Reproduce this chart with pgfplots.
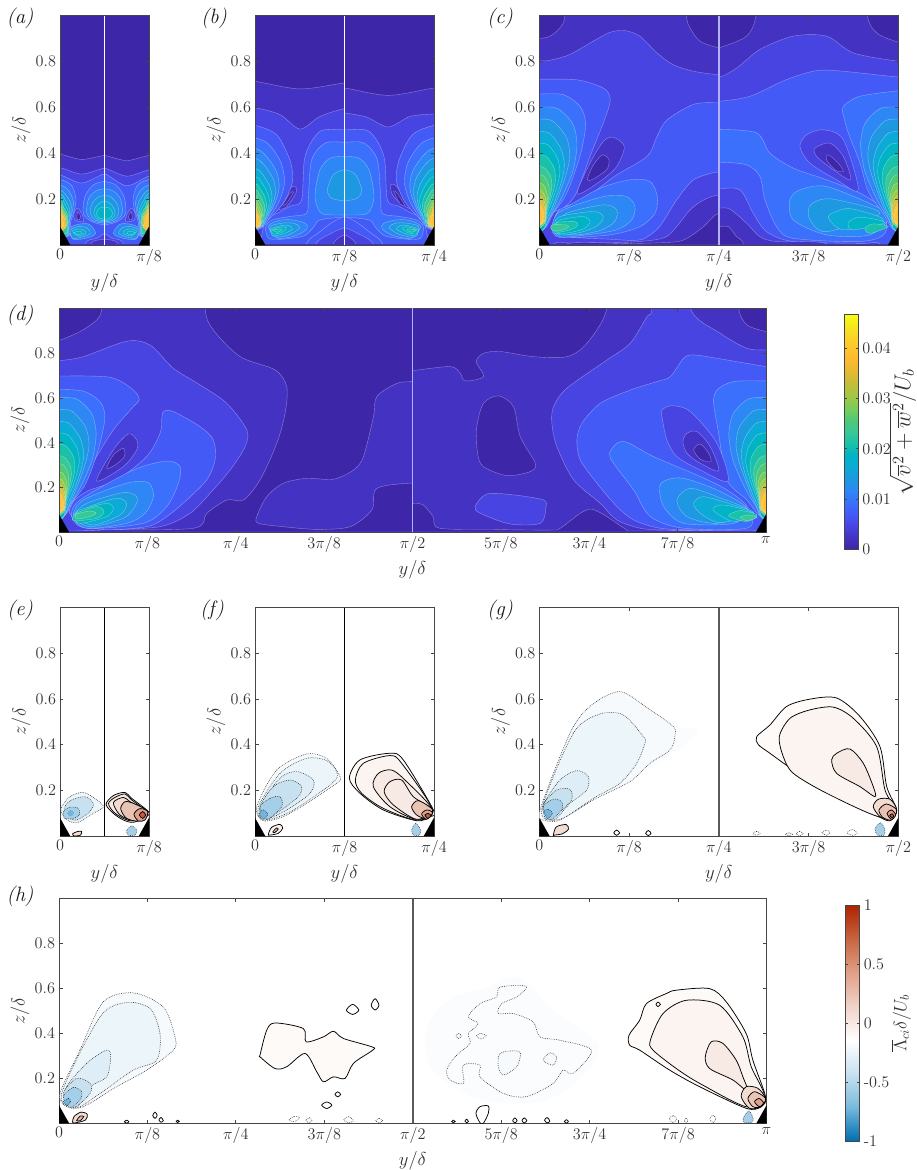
\documentclass[border=0pt]{standalone}
\usepackage{pgfplots}
\pgfplotsset{compat=1.18}
% contour level colours (parula)
\definecolor{L0}{RGB}{62,38,168}\definecolor{L1}{RGB}{68,50,195}\definecolor{L2}{RGB}{71,68,226}\definecolor{L3}{RGB}{68,90,246}
\definecolor{L4}{RGB}{58,112,252}\definecolor{L5}{RGB}{45,135,245}\definecolor{L6}{RGB}{30,152,225}\definecolor{L7}{RGB}{12,170,215}
\definecolor{L8}{RGB}{0,180,195}\definecolor{L9}{RGB}{25,192,170}\definecolor{L10}{RGB}{55,200,150}\definecolor{L11}{RGB}{80,200,120}
\definecolor{L12}{RGB}{120,205,90}\definecolor{L13}{RGB}{160,200,70}\definecolor{L14}{RGB}{190,190,60}\definecolor{L15}{RGB}{225,185,50}
\definecolor{L16}{RGB}{250,185,50}\definecolor{L17}{RGB}{255,195,45}\definecolor{L18}{RGB}{250,210,40}\definecolor{L19}{RGB}{245,230,30}
\definecolor{B00}{RGB}{250,252,254}\definecolor{B0}{RGB}{246,250,253}\definecolor{B1}{RGB}{236,245,250}\definecolor{B2}{RGB}{222,237,246}\definecolor{B3}{RGB}{200,225,240}
\definecolor{B4}{RGB}{165,207,232}\definecolor{B5}{RGB}{115,180,218}
\definecolor{R0}{RGB}{253,250,248}\definecolor{R1}{RGB}{251,244,240}\definecolor{R2}{RGB}{247,234,228}\definecolor{R3}{RGB}{242,220,210}
\definecolor{R4}{RGB}{234,195,180}\definecolor{R5}{RGB}{224,160,140}\definecolor{R6}{RGB}{200,90,60}
\definecolor{axc}{RGB}{70,70,70}
\newcommand{\tfont}{\fontsize{14.4}{16}\selectfont}
\pgfplotsset{
 colormap={parula}{rgb255=(62,38,168) rgb255=(68,50,195) rgb255=(71,68,226) rgb255=(68,90,246) rgb255=(58,112,252) rgb255=(45,135,245) rgb255=(30,152,225) rgb255=(12,170,215) rgb255=(0,180,195) rgb255=(25,192,170) rgb255=(55,200,150) rgb255=(80,200,120) rgb255=(120,205,90) rgb255=(160,200,70) rgb255=(190,190,60) rgb255=(225,185,50) rgb255=(250,185,50) rgb255=(255,195,45) rgb255=(250,210,40) rgb255=(245,230,30) rgb255=(249,251,21)},
 colormap={bwr}{rgb255=(0,110,175) rgb255=(120,185,220) rgb255=(200,225,240) rgb255=(255,255,255) rgb255=(240,210,200) rgb255=(225,160,135) rgb255=(200,100,65) rgb255=(175,35,0)},
 halfax/.style={scale only axis,anchor=south west,hide axis,ymin=0,ymax=1},
 frame/.style={scale only axis,anchor=south west,ymin=0,ymax=1,
   ytick={.2,.4,.6,.8},yticklabels={0.2,0.4,0.6,0.8},
   tick align=inside,major tick length=3.5pt,
   axis line style={color=axc,line width=.8pt},tick style={color=axc,line width=.8pt},
   tick label style={font=\tfont,color=black!80,scale=1.125},
   label style={font=\tfont,color=black!80,scale=1.3},
   xlabel={$y/\delta$},ylabel={$z/\delta$},ylabel shift=-3pt,
   clip=true},
 xa/.style={xmin=0,xmax=1,xtick={0,1},xticklabels={$0$,$\pi/8$}},
 xb/.style={xmin=0,xmax=2,xtick={0,1,2},xticklabels={$0$,$\pi/8$,$\pi/4$}},
 xc/.style={xmin=0,xmax=4,xtick={0,1,2,3,4},xticklabels={$0$,$\pi/8$,$\pi/4$,$3\pi/8$,$\pi/2$}},
 xd/.style={xmin=0,xmax=8,xtick={0,...,8},xticklabels={$0$,$\pi/8$,$\pi/4$,$3\pi/8$,$\pi/2$,$5\pi/8$,$3\pi/4$,$7\pi/8$,$\pi$}},
}
\newcommand{\C}[2]{\addplot[fill=#1,draw=white,draw opacity=.4,line width=.4pt,smooth cycle,forget plot] coordinates {#2};}
\newcommand{\F}[2]{\addplot[fill=#1,draw=none,smooth cycle,forget plot] coordinates {#2};}
\newcommand{\Bd}[2]{\addplot[fill=#1,draw=black!85,line width=.55pt,dash pattern=on .7pt off 1.1pt,smooth cycle,forget plot] coordinates {#2};}
\newcommand{\Rd}[2]{\addplot[fill=#1,draw=black,line width=.75pt,smooth cycle,forget plot] coordinates {#2};}
\newcommand{\Tri}[1]{\addplot[fill=black,draw=none,forget plot] coordinates {(0,0)(0,.08)(.115,0)} --cycle;
  \addplot[fill=black,draw=none,forget plot] coordinates {(#1,0)(#1,.08)(#1-.115,0)} --cycle;}
\newcommand{\HL}[5]{\begin{axis}[halfax,at={(#1pt,#2pt)},width=#3pt,height=#4pt,xmin=0,xmax=#5]}
\newcommand{\HR}[5]{\begin{axis}[halfax,x dir=reverse,at={(#1pt,#2pt)},width=#3pt,height=#4pt,xmin=0,xmax=#5]}
\newcommand{\Base}{\C{L0}{(-5,-5)(20,-5)(20,5)(-5,5)}}
\newcommand{\Strip}{\addplot[fill=L1,draw=none,forget plot] coordinates {(-5,-1)(20,-1)(20,.006)(-5,.006)} --cycle;}
% wall contours shared by the wide panels
\newcommand{\wallstack}{%
\C{L5}{(-.1,.601)(0,.601)(.2,.595)(.37,.53)(.42,.44)(.38,.33)(.29,.24)(.2,.17)(.12,.12)(.05,.07)(-.1,.07)}
\C{L6}{(-.1,.549)(0,.549)(.15,.54)(.3,.47)(.34,.39)(.3,.31)(.23,.23)(.16,.16)(.1,.11)(.05,.07)(-.1,.07)}
\C{L7}{(-.1,.495)(0,.495)(.12,.485)(.24,.42)(.28,.35)(.25,.28)(.19,.21)(.13,.15)(.08,.11)(.05,.07)(-.1,.07)}
\C{L8}{(-.1,.444)(0,.444)(.1,.435)(.2,.38)(.23,.32)(.2,.26)(.15,.2)(.1,.15)(.07,.11)(.05,.07)(-.1,.07)}
\C{L9}{(-.1,.393)(0,.393)(.08,.385)(.16,.34)(.18,.29)(.16,.24)(.12,.19)(.08,.14)(.06,.1)(-.1,.07)}
\C{L10}{(-.1,.342)(0,.342)(.06,.335)(.125,.3)(.14,.26)(.12,.21)(.09,.17)(.07,.12)(.05,.09)(-.1,.07)}
\C{L11}{(-.1,.306)(0,.306)(.05,.3)(.1,.265)(.11,.23)(.095,.19)(.075,.15)(.06,.1)(-.1,.07)}
\C{L12}{(-.1,.27)(0,.27)(.04,.265)(.08,.235)(.09,.2)(.08,.17)(.065,.13)(.05,.09)(-.1,.07)}
\C{L13}{(-.1,.24)(0,.24)(.03,.235)(.065,.21)(.075,.18)(.07,.15)(.055,.11)(-.1,.07)}
\C{L14}{(-.1,.215)(0,.215)(.025,.21)(.055,.19)(.07,.16)(.065,.13)(.05,.1)(-.1,.07)}
\C{L15}{(-.1,.2)(0,.2)(.03,.19)(.06,.16)(.065,.13)(.05,.1)(-.1,.07)}
\C{L16}{(-.1,.185)(0,.185)(.025,.17)(.05,.145)(.05,.12)(.035,.095)(-.1,.08)}
\C{L17}{(-.1,.17)(0,.17)(.02,.16)(.04,.135)(.04,.115)(.02,.095)(-.1,.085)}
}
% common to both halves of panel a
\newcommand{\aHalf}{%
\C{L5}{(.1,.07)(.2,.09)(.33,.09)(.4,.05)(.3,.03)(.15,.025)}
\C{L6}{(.12,.065)(.2,.08)(.3,.075)(.34,.05)(.25,.035)(.14,.03)}
\C{L7}{(.14,.06)(.2,.07)(.27,.065)(.29,.05)(.2,.04)}
\C{L8}{(.16,.055)(.22,.06)(.25,.052)(.2,.045)}
\C{L4}{(.262,.138)(.28,.211)(.375,.262)(.5,.277)(.6,.277)(.6,.087)(.5,.087)(.356,.102)}
\C{L5}{(.3,.14)(.32,.2)(.4,.235)(.5,.245)(.6,.245)(.6,.095)(.5,.095)(.37,.105)}
\C{L6}{(.34,.14)(.36,.18)(.43,.21)(.5,.215)(.6,.215)(.6,.1)(.5,.1)(.39,.11)}
\C{L7}{(.38,.14)(.4,.165)(.45,.185)(.5,.19)(.6,.19)(.6,.105)(.5,.105)(.41,.115)}
\C{L8}{(.41,.14)(.44,.16)(.5,.165)(.6,.165)(.6,.112)(.5,.112)(.43,.12)}
\C{L2}{(.28,-.05)(.3,.015)(.42,.03)(.5,.05)(.6,.05)(.6,-.05)}
\C{L1}{(.35,-.05)(.36,.012)(.5,.025)(.6,.025)(.6,-.05)}
\C{L2}{(.195,.16)(.244,.138)(.262,.102)(.169,.109)(.157,.138)}
\C{L0}{(.2,.145)(.23,.125)(.215,.11)(.19,.115)}
\C{L4}{(-.2,.285)(0,.285)(.13,.26)(.18,.2)(.16,.15)(.12,.1)(.1,.04)(-.2,.04)}
\C{L5}{(-.2,.262)(0,.262)(.1,.235)(.15,.19)(.135,.14)(.105,.1)(.09,.04)(-.2,.04)}
\C{L6}{(-.2,.24)(0,.24)(.08,.21)(.125,.175)(.12,.13)(.095,.09)(.08,.04)(-.2,.04)}
\C{L7}{(-.2,.225)(0,.225)(.06,.195)(.105,.16)(.105,.125)(.09,.09)(.08,.045)(-.2,.04)}
\C{L8}{(-.2,.21)(0,.21)(.05,.18)(.09,.15)(.09,.12)(.08,.09)(.075,.05)(-.2,.04)}
\C{L10}{(-.2,.195)(0,.195)(.04,.165)(.08,.14)(.085,.115)(.075,.09)(.07,.05)(-.2,.04)}
\C{L12}{(-.2,.18)(0,.18)(.03,.155)(.07,.13)(.075,.11)(.07,.085)(-.2,.04)}
\C{L14}{(-.2,.17)(0,.17)(.025,.145)(.06,.125)(.065,.105)(.06,.08)(-.2,.04)}
\C{L16}{(-.2,.155)(0,.155)(.02,.135)(.05,.12)(.05,.1)(.05,.07)(-.2,.04)}
\C{L17}{(-.2,.14)(0,.14)(.03,.115)(.035,.1)(.03,.08)(-.2,.04)}
}
% common to both halves of panel b
\newcommand{\bWall}{%
\C{L3}{(-.2,.521)(0,.521)(.242,.48)(.39,.37)(.42,.28)(.33,.19)(.2,.13)(.1,.09)(.05,.07)(-.2,.07)}
\C{L4}{(-.2,.466)(0,.466)(.15,.44)(.29,.36)(.33,.27)(.27,.19)(.17,.125)(.08,.08)(-.2,.07)}
\C{L5}{(-.2,.422)(0,.422)(.12,.39)(.24,.32)(.27,.25)(.22,.18)(.14,.12)(.07,.08)(-.2,.07)}
\C{L6}{(-.2,.378)(0,.378)(.1,.35)(.2,.29)(.23,.23)(.19,.17)(.12,.115)(.06,.08)(-.2,.07)}
\C{L7}{(-.2,.335)(0,.335)(.08,.31)(.16,.26)(.19,.21)(.16,.155)(.1,.11)(.06,.08)(-.2,.07)}
\C{L8}{(-.2,.298)(0,.298)(.06,.28)(.13,.235)(.16,.19)(.13,.14)(.08,.1)(-.2,.07)}
\C{L9}{(-.2,.268)(0,.268)(.05,.25)(.11,.21)(.13,.175)(.105,.13)(.07,.095)(-.2,.07)}
\C{L10}{(-.2,.243)(0,.243)(.04,.225)(.09,.19)(.11,.16)(.09,.12)(.06,.09)(-.2,.07)}
\C{L11}{(-.2,.22)(0,.22)(.03,.2)(.075,.17)(.09,.145)(.075,.115)(.05,.085)(-.2,.07)}
\C{L12}{(-.2,.2)(0,.2)(.025,.185)(.06,.16)(.075,.135)(.065,.11)(.05,.08)(-.2,.07)}
\C{L13}{(-.2,.185)(0,.185)(.02,.17)(.05,.145)(.065,.125)(.06,.1)(.045,.08)(-.2,.07)}
\C{L15}{(-.2,.17)(0,.17)(.015,.15)(.05,.125)(.06,.105)(.04,.08)(-.2,.07)}
\C{L16}{(-.2,.15)(0,.15)(.01,.14)(.04,.12)(.05,.1)(.03,.08)(-.2,.07)}
\C{L17}{(-.2,.135)(0,.135)(.025,.115)(.035,.1)(.02,.085)(-.2,.07)}
}
\newcommand{\bMound}{%
\C{L3}{(.1,.09)(.26,.14)(.4,.17)(.521,.197)(.559,.386)(.726,.495)(1,.502)(1.2,.502)(1.2,-.2)(.1,-.2)}
\C{L4}{(.12,.08)(.2,.11)(.4,.125)(.577,.138)(.596,.211)(.633,.371)(.782,.444)(1,.448)(1.2,.448)(1.2,.1)(1,.12)(.726,.109)(.66,.08)(.55,.04)(.3,.025)(.15,.03)}
\C{L5}{(.67,.211)(.726,.328)(.838,.378)(1,.386)(1.2,.386)(1.2,.12)(1,.13)(.745,.138)}
\C{L6}{(.808,.24)(.875,.306)(1,.328)(1.2,.328)(1.2,.19)(1,.192)(.857,.204)}
\C{L5}{(.15,.08)(.25,.105)(.4,.11)(.56,.095)(.58,.07)(.45,.04)(.25,.03)}
\C{L6}{(.17,.08)(.3,.095)(.43,.095)(.5,.075)(.38,.045)(.22,.035)}
\C{L7}{(.18,.07)(.3,.085)(.38,.085)(.42,.07)(.33,.05)(.2,.04)}
\C{L8}{(.19,.065)(.28,.078)(.35,.075)(.3,.055)(.2,.048)}
\C{L9}{(.2,.065)(.28,.07)(.3,.065)(.25,.055)}
\C{L3}{(.55,-.05)(.6,.02)(.7,.05)(.85,.095)(1,.124)(1.2,.124)(1.2,-.05)}
\C{L2}{(.65,-.05)(.7,.015)(.85,.05)(1,.075)(1.2,.075)(1.2,-.05)}
\C{L1}{(.85,-.05)(.88,.01)(1,.044)(1.2,.044)(1.2,-.05)}
}
\begin{document}
\begin{tikzpicture}[x=1pt,y=1pt]
\path[use as bounding box] (0,0) rectangle (917,-1170);
%---------- (a)
\HL{60}{-245}{44.5}{229.5}{.5}
\Base
\C{L1}{(-.2,.395)(0,.395)(.244,.373)(.5,.39)(.7,.39)(.7,-.2)(-.2,-.2)}
\C{L2}{(-.2,.337)(0,.337)(.244,.309)(.5,.335)(.7,.335)(.7,-.2)(-.2,-.2)}
\C{L3}{(-.2,.305)(0,.305)(.244,.27)(.5,.31)(.7,.31)(.7,-.2)(-.2,-.2)}
\aHalf\Strip
\end{axis}
\HR{104.5}{-245}{44.5}{229.5}{.5}
\Base
\C{L1}{(-.2,.39)(0,.39)(.25,.368)(.5,.39)(.7,.39)(.7,-.2)(-.2,-.2)}
\C{L2}{(-.2,.327)(0,.327)(.25,.3)(.5,.335)(.7,.335)(.7,-.2)(-.2,-.2)}
\C{L3}{(-.2,.3)(0,.3)(.25,.258)(.5,.31)(.7,.31)(.7,-.2)(-.2,-.2)}
\aHalf\Strip
\end{axis}
\begin{axis}[frame,xa,at={(60pt,-245pt)},width=89pt,height=229.5pt]
\addplot[white,line width=1pt,forget plot] coordinates {(.5,0)(.5,1)};
\Tri{1}
\end{axis}
%---------- (b)
\HL{255}{-245}{89.5}{229.5}{1}
\Base
\C{L1}{(-.2,.713)(0,.713)(.503,.68)(1,.706)(1.2,.706)(1.2,-.2)(-.2,-.2)}
\C{L2}{(-.2,.598)(0,.598)(.28,.568)(.503,.505)(.726,.56)(1,.594)(1.2,.594)(1.2,-.2)(-.2,-.2)}
\bMound
\C{L1}{(.26,.16)(.391,.247)(.458,.252)(.458,.226)(.354,.167)}
\C{L0}{(.31,.175)(.39,.225)(.43,.23)(.35,.18)}
\bWall\Strip
\end{axis}
\HR{344.5}{-245}{89.5}{229.5}{1}
\Base
\C{L1}{(-.2,.684)(0,.684)(.51,.652)(1,.684)(1.2,.684)(1.2,-.2)(-.2,-.2)}
\C{L2}{(-.2,.571)(0,.571)(.268,.56)(.51,.514)(.752,.557)(1,.575)(1.2,.575)(1.2,-.2)(-.2,-.2)}
\bMound
\C{L1}{(.484,.262)(.417,.255)(.268,.16)(.417,.197)(.473,.226)}
\C{L0}{(.33,.175)(.41,.225)(.45,.235)(.38,.18)}
\bWall\Strip
\end{axis}
\begin{axis}[frame,xb,at={(255pt,-245pt)},width=179pt,height=229.5pt]
\addplot[white,line width=1pt,forget plot] coordinates {(1,0)(1,1)};
\Tri{2}
\end{axis}
%---------- (c)
\HL{539.3}{-245}{179.5}{229.5}{2}
\C{L2}{(-5,-5)(20,-5)(20,5)(-5,5)}
\C{L1}{(-.3,.8)(0,.802)(.12,.805)(.34,.83)(.6,.888)(.79,.927)(.955,.934)(1.12,.91)(1.31,.837)(1.49,.786)(1.72,.757)(2,.742)(2.3,.74)(2.3,1.3)(-.3,1.3)}
\C{L0}{(-.2,.9)(0,.9)(.12,.91)(.23,.946)(.286,1)(.3,1.2)(-.2,1.2)}
\C{L0}{(1.63,1.2)(1.64,1)(1.68,.946)(1.79,.888)(2,.859)(2.2,.85)(2.2,1.2)}
\C{L3}{(2.3,.62)(2,.62)(1.72,.613)(1.42,.544)(1.31,.472)(1.2,.386)(.84,.3)(.5,.2)(.25,.16)(.17,.11)(.3,.04)(.79,.025)(1.05,.02)(1.18,.03)(1.34,.08)(1.53,.196)(1.72,.284)(2,.319)(2.3,.32)}
\C{L1}{(2.3,.22)(2,.218)(1.83,.196)(1.68,.153)(1.53,.08)(1.38,.03)(1,.012)(.4,.008)(.15,.003)(.15,-.1)(2.3,-.1)}
\C{L0}{(2.3,.14)(2,.139)(1.83,.08)(1.65,.03)(1.5,.013)(1,.006)(.3,.004)(.3,-.1)(2.3,-.1)}
\C{L4}{(.14,.08)(.23,.16)(.305,.167)(.676,.247)(1.01,.284)(1.233,.277)(1.315,.211)(1.289,.138)(1.122,.08)(.787,.044)(.23,.033)}
\C{L5}{(.15,.08)(.23,.146)(.713,.211)(.973,.211)(1.066,.167)(1.029,.109)(.862,.066)(.527,.044)(.23,.036)}
\C{L6}{(.18,.08)(.305,.138)(.713,.175)(.862,.153)(.84,.102)(.676,.063)(.38,.044)}
\C{L7}{(.17,.085)(.23,.124)(.6,.146)(.713,.124)(.658,.087)(.49,.058)(.23,.044)}
\C{L8}{(.17,.08)(.23,.109)(.49,.124)(.565,.102)(.508,.073)(.342,.054)(.175,.051)}
\C{L9}{(.16,.075)(.2,.098)(.4,.102)(.423,.083)(.342,.066)(.2,.055)}
\C{L10}{(.138,.087)(.305,.087)(.32,.076)(.212,.061)(.138,.066)}
\C{L3}{(-.2,.723)(0,.723)(.416,.72)(.676,.691)(.77,.662)(.787,.619)(.713,.531)(.565,.386)(.416,.229)(.3,.17)(.15,.14)(.1,.1)(0,.08)(-.2,.08)}
\C{L4}{(-.2,.658)(0,.658)(.267,.655)(.453,.604)(.516,.531)(.472,.415)(.379,.298)(.286,.211)(.156,.138)(.05,.07)(-.2,.07)}
\wallstack
\C{L1}{(.423,.223)(.565,.357)(.713,.451)(.825,.469)(.947,.429)(.862,.342)(.676,.277)}
\C{L0}{(.535,.284)(.583,.335)(.657,.378)(.713,.393)(.776,.371)(.75,.328)(.6,.287)}
\Strip
\end{axis}
\HR{718.8}{-245}{179.5}{229.5}{2}
\C{L3}{(-5,-5)(20,-5)(20,5)(-5,5)}
\C{L2}{(2.3,.62)(2,.626)(1.653,.648)(1.244,.721)(.91,.76)(.613,.757)(0,.732)(-.3,.73)(-.3,1.3)(2.3,1.3)}
\C{L1}{(2.3,.73)(2,.731)(1.801,.771)(1.541,.852)(1.17,.91)(.799,.91)(.501,.837)(0,.801)(-.3,.8)(-.3,1.3)(2.3,1.3)}
\C{L0}{(2.2,.85)(2,.859)(1.69,.91)(1.586,1)(1.57,1.2)(2.2,1.2)}
\C{L0}{(.35,1.2)(.345,1)(.241,.924)(0,.884)(-.2,.88)(-.2,1.2)}
\C{L4}{(2.3,.5)(2,.504)(1.578,.488)(1.43,.4)(1.17,.335)(.799,.284)(.427,.226)(.167,.153)(.15,.05)(.427,.015)(1.17,.029)(1.356,.08)(1.486,.197)(1.541,.298)(1.69,.349)(2,.361)(2.3,.36)}
\C{L2}{(2.3,.246)(2,.246)(1.764,.24)(1.616,.138)(1.467,.058)(1.17,.015)(.427,.007)(.2,.004)(.2,-.1)(2.3,-.1)}
\C{L1}{(2.3,.161)(2,.161)(1.876,.156)(1.69,.095)(1.541,.036)(1.356,.015)(.8,.005)(.8,-.1)(2.3,-.1)}
\C{L0}{(2.3,.08)(2,.08)(1.894,.08)(1.801,.036)(1.727,.007)(1.7,-.1)(2.3,-.1)}
\C{L5}{(1.207,.197)(1.096,.24)(.799,.255)(.241,.167)(.093,.124)(.316,.044)(.799,.044)(1.17,.109)}
\C{L6}{(.992,.167)(.873,.197)(.687,.197)(.204,.138)(.799,.058)(.984,.109)}
\C{L7}{(.78,.124)(.613,.156)(.464,.153)(.167,.109)(.613,.066)}
\C{L8}{(.557,.098)(.427,.121)(.149,.098)(.501,.066)}
\C{L9}{(.371,.073)(.279,.092)(.111,.08)(.316,.051)}
\C{L4}{(-.1,.672)(0,.672)(.427,.648)(.613,.604)(.613,.568)(.557,.488)(.427,.357)(.334,.233)(.167,.138)(.06,.07)(-.1,.07)}
\wallstack
\C{L2}{(.836,.502)(.613,.459)(.446,.24)(.687,.284)(.984,.357)(1.096,.429)(1.021,.48)}
\C{L1}{(.761,.444)(.613,.386)(.531,.284)(.724,.328)(.91,.386)(.929,.422)}
\C{L0}{(.78,.393)(.669,.357)(.613,.32)(.706,.328)(.799,.371)}
\Strip
\end{axis}
\begin{axis}[frame,xc,at={(539.3pt,-245pt)},width=359pt,height=229.5pt]
\addplot[white!70!blue,line width=1.6pt,forget plot] coordinates {(2,0)(2,1)};
\Tri{4}
\end{axis}
%---------- (d)
\HL{59}{-532.3}{353.5}{224}{4}
\Base
\C{L1}{(-.1,1.3)(1.64,1.3)(1.653,1)(1.747,.903)(2.05,.784)(2.445,.725)(2.577,.65)(2.558,.531)(2.464,.397)(2.275,.234)(2.087,.144)(1.898,.144)(1.672,.085)(1.52,.018)(.464,.01)(.2,.005)(-.1,0)}
\C{L0}{(-.1,.85)(0,.856)(.238,.896)(.426,.948)(.483,1)(.5,1.2)(-.1,1.2)}
\C{L1}{(2.238,.07)(2.351,.159)(2.54,.219)(2.804,.241)(3.106,.237)(3.332,.278)(3.445,.338)(3.558,.516)(3.596,.606)(3.823,.665)(4,.673)(4.2,.68)(4.2,.21)(4,.22)(3.596,.196)(3.54,.1)(3.294,.025)(2.917,.013)(2.54,.025)(2.257,.04)}
\C{L2}{(-.1,.766)(0,.766)(.275,.784)(.766,.853)(1.03,.836)(1.294,.732)(1.596,.658)(1.898,.576)(2.125,.457)(2.106,.382)(1.936,.278)(1.709,.174)(1.483,.085)(1.143,.025)(.464,.01)(.1,.005)(-.1,.005)}
\C{L3}{(.143,.07)(.143,.129)(.313,.182)(.653,.234)(.992,.338)(1.143,.442)(1.162,.501)(1.181,.539)(1.294,.539)(1.596,.472)(1.747,.412)(1.766,.323)(1.672,.234)(1.445,.144)(1.219,.07)(.992,.025)(.464,.013)}
\C{L4}{(.143,.07)(.238,.144)(.842,.278)(1.219,.318)(1.37,.293)(1.351,.219)(1.219,.115)(.955,.04)(.313,.018)}
\C{L5}{(.16,.07)(.275,.144)(.766,.219)(1.011,.222)(1.068,.159)(.974,.085)(.766,.04)(.313,.018)}
\C{L6}{(.17,.07)(.313,.129)(.728,.177)(.879,.159)(.86,.115)(.728,.0625)(.351,.025)}
\C{L7}{(.18,.07)(.351,.115)(.653,.152)(.766,.129)(.69,.077)(.389,.033)}
\C{L8}{(.18,.07)(.238,.1)(.54,.129)(.615,.107)(.54,.07)(.238,.04)}
\C{L9}{(.2,.085)(.426,.115)(.509,.092)(.426,.0625)(.162,.052)}
\C{L10}{(.19,.08)(.35,.095)(.42,.085)(.33,.068)(.2,.06)}
\C{L3}{(-.1,.698)(0,.698)(.577,.692)(.842,.635)(.909,.591)(.842,.561)(.615,.457)(.426,.338)(.238,.204)(.087,.085)(-.1,.07)}
\C{L4}{(-.1,.638)(0,.638)(.28,.63)(.46,.585)(.52,.52)(.472,.41)(.379,.29)(.286,.205)(.156,.138)(.05,.07)(-.1,.07)}
\wallstack
\C{L1}{(.426,.229)(.615,.368)(.785,.439)(.879,.412)(.879,.368)(.728,.293)}
\C{L0}{(.54,.286)(.615,.345)(.728,.375)(.74,.338)(.634,.3)}
\Strip
\end{axis}
\HR{412.5}{-532.3}{353.5}{224}{4}
\C{L1}{(-5,-5)(20,-5)(20,5)(-5,5)}
\C{L0}{(4.2,1.3)(4.2,.72)(4,.722)(3.574,.74)(3.46,.71)(3.404,.676)(3.196,.695)(3.279,.762)(3.196,.799)(3.008,.807)(2.63,.784)(2.253,.784)(2.026,.844)(1.8,1)(1.78,1.3)}
\C{L0}{(.32,1.2)(.309,1)(.215,.926)(0,.896)(-.1,.89)(-.1,1.2)}
\C{L0}{(4.2,.13)(4,.129)(3.879,.122)(3.766,.07)(3.69,.018)(3,.012)(2.44,.01)(2.328,.018)(2.102,.085)(1.97,.103)(1.8,.07)(1.574,.01)(1.5,.005)(.5,0)(.5,-.1)(4.2,-.1)}
\C{L2}{(3.291,.115)(3.158,.171)(2.857,.167)(2.517,.144)(2.491,.107)(2.555,.04)(2.894,.037)(3.234,.085)}
\C{L0}{(3.272,.472)(3.196,.576)(3.026,.609)(2.857,.561)(2.781,.427)(2.611,.308)(2.668,.271)(2.932,.253)(3.196,.293)(3.264,.353)}
\C{L2}{(1.3,1.3)(1.291,1)(1.347,.963)(1.536,.844)(1.8,.769)(2.253,.643)(2.404,.561)(2.423,.487)(2.366,.382)(2.177,.234)(1.875,.129)(1.687,.055)(1.423,.018)(1.121,.01)(.2,.005)(-.1,0)(-.1,.814)(0,.814)(.215,.821)(.517,.888)(.857,1)(.86,1.3)}
\C{L3}{(-.1,.74)(0,.74)(.555,.777)(.819,.792)(.932,.777)(1.083,.695)(1.234,.673)(1.536,.635)(1.875,.576)(2.083,.487)(2.14,.412)(2.102,.323)(1.913,.219)(1.687,.115)(1.498,.055)(1.196,.018)(.743,.01)(.15,.01)(-.1,.01)}
\C{L4}{(1.77,.353)(1.687,.397)(1.574,.402)(1.272,.338)(.743,.249)(.442,.189)(.215,.115)(.2,.02)(.932,.018)(1.309,.07)(1.498,.189)(1.725,.308)}
\C{L5}{(1.204,.204)(1.121,.234)(.932,.241)(.555,.189)(.215,.107)(.366,.04)(.932,.04)(1.158,.115)}
\C{L6}{(1.008,.144)(.857,.196)(.555,.159)(.177,.092)(.555,.04)(.894,.07)}
\C{L7}{(.819,.129)(.706,.159)(.366,.122)(.14,.085)(.517,.043)(.743,.085)}
\C{L8}{(.6,.1)(.479,.122)(.14,.085)(.366,.048)}
\C{L9}{(.423,.073)(.291,.097)(.102,.077)(.215,.048)}
\C{L10}{(.291,.067)(.196,.077)(.102,.067)(.215,.052)}
\C{L4}{(-.1,.676)(0,.676)(.366,.673)(.555,.635)(.592,.576)(.536,.442)(.442,.234)(.215,.144)(.06,.07)(-.1,.07)}
\wallstack
\C{L2}{(1.177,.546)(1.064,.565)(.857,.539)(.555,.397)(.43,.229)(.743,.278)(1.008,.338)(1.121,.412)(1.177,.516)}
\C{L1}{(.94,.405)(.894,.442)(.781,.449)(.63,.382)(.536,.275)(.743,.308)(.894,.353)}
\C{L0}{(.819,.368)(.743,.394)(.649,.353)(.623,.315)(.743,.326)}
\Strip
\end{axis}
\begin{axis}[frame,xd,at={(59pt,-532.3pt)},width=707pt,height=224pt]
\addplot[white!70!blue,line width=1.6pt,forget plot] coordinates {(4,0)(4,1)};
\Tri{8}
\end{axis}
%---------- (e)
\begin{axis}[frame,xa,at={(60pt,-836pt)},width=89pt,height=228.5pt]
\Bd{B1}{(.011,.121)(.112,.172)(.262,.191)(.412,.158)(.487,.128)(.375,.099)(.187,.058)(.056,.077)}
\Bd{B3}{(.056,.128)(.131,.158)(.281,.172)(.375,.143)(.337,.107)(.187,.07)(.075,.085)}
\Bd{B4}{(.037,.107)(.112,.126)(.206,.121)(.217,.092)(.15,.077)(.056,.077)}
\F{B5}{(.08,.10)(.12,.115)(.16,.1)(.12,.085)}
\Bd{B4}{(.749,.023)(.805,.044)(.861,.026)(.843,.004)(.768,.004)}
\Rd{R2}{(.517,.139)(.6,.177)(.73,.191)(.805,.165)(.993,.107)(.974,.085)(.824,.06)(.712,.07)(.6,.099)}
\Rd{R2}{(.545,.143)(.618,.169)(.73,.184)(.805,.158)(.974,.102)(.824,.067)(.712,.077)(.6,.106)}
\Rd{R3}{(.6,.146)(.712,.169)(.787,.15)(.974,.102)(.824,.07)(.674,.092)}
\Rd{R4}{(.682,.12)(.73,.15)(.824,.143)(.985,.107)(.899,.066)(.749,.077)}
\Rd{R5}{(.831,.096)(.899,.12)(.985,.107)(.955,.07)(.88,.066)}
\Rd{R6}{(.891,.092)(.929,.107)(.963,.092)(.929,.077)}
\Rd{R3}{(.142,.01)(.2,.02)(.243,.02)(.23,.004)(.16,0)}
\Tri{1}
\addplot[black,line width=.9pt,forget plot] coordinates {(.5,0)(.5,1)};
\end{axis}
%---------- (f)
\begin{axis}[frame,xb,at={(255pt,-836pt)},width=179pt,height=228.5pt]
\Bd{B0}{(.019,.128)(.242,.289)(.577,.359)(.8,.34)(.95,.26)(.913,.231)(.577,.143)(.317,.085)(.093,.067)}
\Bd{B1}{(.037,.128)(.279,.274)(.577,.34)(.819,.326)(.913,.253)(.577,.15)(.317,.092)(.093,.07)}
\Bd{B2}{(.056,.128)(.279,.253)(.466,.282)(.652,.245)(.615,.187)(.354,.114)(.093,.07)}
\Bd{B3}{(.056,.128)(.205,.216)(.391,.245)(.521,.216)(.466,.165)(.13,.077)}
\Bd{B4}{(.056,.128)(.168,.165)(.279,.172)(.298,.128)(.13,.073)}
\Bd{B5}{(.048,.099)(.093,.114)(.142,.096)(.093,.074)}
\Rd{R0}{(1.054,.253)(1.173,.333)(1.508,.362)(1.657,.333)(1.993,.114)(1.955,.085)(1.806,.067)(1.434,.114)(1.173,.187)}
\Rd{R1}{(1.121,.245)(1.21,.318)(1.508,.352)(1.639,.318)(1.985,.114)(1.806,.07)(1.434,.121)(1.192,.187)}
\Rd{R2}{(1.322,.216)(1.378,.274)(1.525,.289)(1.676,.245)(1.985,.114)(1.806,.073)(1.508,.128)}
\Rd{R2}{(1.443,.194)(1.508,.238)(1.639,.245)(1.769,.172)(1.985,.114)(1.806,.073)(1.546,.136)}
\Rd{R4}{(1.75,.128)(1.825,.155)(1.985,.114)(1.918,.077)(1.806,.092)}
\Rd{R5}{(1.862,.096)(1.918,.114)(1.985,.102)(1.918,.073)}
\Rd{R6}{(1.899,.092)(1.937,.099)(1.966,.088)(1.929,.077)}
\Rd{R1}{(.149,.007)(.186,.038)(.279,.051)(.309,.034)(.261,.012)(.168,.004)}
\Rd{R4}{(.2,.018)(.24,.035)(.26,.03)(.22,.015)}
\Bd{B4}{(1.75,.026)(1.795,.055)(1.851,.026)(1.836,.004)(1.769,.004)}
\Tri{2}
\addplot[black,line width=.9pt,forget plot] coordinates {(1,0)(1,1)};
\end{axis}
%---------- (g)
\begin{axis}[frame,xc,at={(539.3pt,-836pt)},width=359pt,height=228.5pt]
\F{B00}{(1.2,.52)(1.5,.48)(1.77,.46)(1.55,.38)(1.2,.3)}
\Bd{B0}{(.007,.114)(.342,.45)(.564,.567)(.899,.632)(1.233,.552)(1.493,.479)(1.511,.435)(1.456,.377)(1.233,.318)(1.01,.238)(.602,.158)(.23,.07)(.045,.07)}
\Bd{B1}{(.026,.114)(.379,.45)(.676,.534)(.936,.53)(1.159,.435)(1.177,.406)(1.085,.318)(.899,.231)(.602,.165)(.23,.073)}
\Bd{B2}{(.037,.128)(.23,.245)(.416,.286)(.546,.26)(.527,.201)(.342,.143)(.156,.07)}
\Bd{B3}{(.045,.136)(.193,.201)(.342,.204)(.36,.158)(.23,.107)(.082,.07)}
\Bd{B4}{(.045,.128)(.156,.161)(.249,.15)(.249,.114)(.119,.07)}
\Bd{B5}{(.052,.107)(.1,.117)(.145,.099)(.093,.077)}
\Rd{R0}{(2.422,.435)(2.57,.486)(2.756,.567)(3.016,.599)(3.313,.604)(3.573,.523)(3.796,.391)(3.871,.216)(3.982,.114)(3.908,.07)(3.778,.085)(3.202,.201)(2.831,.289)(2.57,.362)(2.44,.4)}
\Rd{R1}{(2.674,.435)(2.793,.515)(3.016,.552)(3.276,.564)(3.499,.515)(3.759,.391)(3.852,.201)(3.963,.114)(3.778,.085)(3.202,.187)(2.831,.274)(2.719,.347)}
\Rd{R2}{(3.257,.333)(3.313,.362)(3.461,.381)(3.61,.318)(3.721,.216)(3.74,.172)(3.573,.216)(3.313,.274)}
\Rd{R3}{(3.721,.128)(3.778,.161)(3.908,.161)(3.982,.114)(3.908,.067)(3.796,.085)}
\Rd{R4}{(3.785,.114)(3.867,.14)(3.982,.114)(3.926,.07)(3.826,.082)}
\Rd{R5}{(3.875,.099)(3.923,.114)(3.971,.092)(3.923,.073)}
\Rd{R6}{(3.905,.09)(3.93,.097)(3.95,.088)(3.93,.08)}
\Rd{R3}{(.156,.004)(.19,.04)(.3,.05)(.325,.03)(.26,.01)(.17,.004)}
\Bd{B4}{(3.74,.03)(3.8,.058)(3.85,.03)(3.84,.004)(3.77,.004)}
\Rd{white}{(.83,.014)(.862,.026)(.895,.014)(.862,.003)}
\Rd{white}{(1.185,.012)(1.215,.024)(1.245,.012)(1.215,.002)}
\Bd{white}{(2.38,.012)(2.42,.02)(2.46,.012)(2.42,.003)}
\Bd{white}{(2.74,.007)(2.78,.014)(2.82,.007)(2.78,.002)}
\Bd{white}{(2.86,.01)(2.9,.02)(2.94,.01)(2.9,.002)}
\Bd{white}{(3.15,.015)(3.2,.026)(3.24,.015)(3.2,.003)}
\Bd{white}{(3.43,.014)(3.49,.028)(3.54,.012)(3.49,.003)}
\Tri{4}
\addplot[black!65,line width=1.5pt,forget plot] coordinates {(2,0)(2,1)};
\end{axis}
%---------- (h)
\begin{axis}[frame,xd,at={(59pt,-1123.3pt)},width=707.5pt,height=224.5pt]
\Bd{B0}{(.011,.133)(.237,.326)(.5,.541)(.84,.581)(1.18,.518)(1.312,.385)(1.293,.326)(.991,.237)(.652,.163)(.275,.074)(.087,.074)}
\Bd{B1}{(.03,.133)(.464,.474)(.765,.538)(1.029,.511)(1.142,.4)(1.104,.281)(.841,.237)(.464,.133)(.2,.07)}
\Bd{B2}{(.068,.148)(.313,.267)(.539,.326)(.584,.296)(.539,.207)(.351,.163)(.2,.074)}
\Bd{B3}{(.049,.133)(.2,.2)(.351,.178)(.351,.133)(.162,.07)}
\Bd{B4}{(.049,.119)(.162,.16)(.256,.141)(.238,.104)(.124,.07)}
\Bd{B5}{(.049,.096)(.106,.111)(.132,.096)(.087,.081)}
\Rd{R3}{(.155,.003)(.17,.03)(.25,.05)(.32,.04)(.3,.015)(.2,.003)}
\Rd{R4}{(.2,.012)(.24,.032)(.28,.03)(.24,.012)}
\Rd{white}{(.74,.007)(.765,.014)(.79,.007)(.765,.001)}
\Rd{white}{(1.06,.035)(1.086,.05)(1.11,.035)(1.086,.022)}
\Rd{white}{(1.13,.015)(1.154,.026)(1.18,.012)(1.154,.005)}
\Rd{white}{(1.325,.009)(1.342,.014)(1.36,.009)(1.342,.003)}
\Rd{R0}{(2.273,.304)(2.349,.415)(2.443,.447)(2.763,.422)(2.794,.363)(2.99,.385)(3.103,.41)(3.216,.378)(3.536,.341)(3.548,.326)(3.329,.267)(3.235,.2)(3.103,.207)(2.99,.185)(2.914,.23)(2.782,.311)(2.575,.252)(2.443,.244)(2.273,.296)}
\Rd{white}{(3.25,.504)(3.321,.53)(3.39,.504)(3.321,.485)}
\Rd{white}{(3.53,.526)(3.574,.555)(3.618,.526)(3.574,.505)}
\Rd{white}{(3.12,.129)(3.152,.14)(3.185,.129)(3.152,.118)}
\Rd{white}{(2.97,.081)(3.028,.095)(3.085,.081)(3.028,.066)}
\Bd{white}{(2.6,.015)(2.66,.03)(2.72,.025)(2.66,.008)}
\Bd{white}{(2.79,.012)(2.83,.025)(2.86,.012)(2.83,.003)}
\Bd{white}{(3.22,.015)(3.27,.03)(3.33,.012)(3.27,.003)}
\Bd{white}{(3.58,.012)(3.62,.022)(3.66,.012)(3.62,.003)}
\F{B00}{(4.2,.25)(4.15,.42)(4.4,.55)(4.8,.6)(5.2,.65)(5.6,.5)(6.1,.35)(5.9,.2)(5.5,.1)(5,.09)(4.6,.13)}
\Bd{B00}{(4.384,.237)(4.478,.296)(4.647,.356)(4.628,.4)(4.741,.444)(4.628,.474)(4.76,.533)(4.948,.563)(4.986,.607)(5.287,.61)(5.174,.563)(5.005,.533)(4.967,.489)(5.136,.489)(5.362,.452)(5.437,.385)(5.663,.37)(6.021,.326)(5.814,.222)(5.701,.237)(5.588,.178)(5.287,.119)(5.024,.133)(4.76,.207)(4.76,.259)(4.572,.259)(4.572,.178)(4.421,.193)}
\Bd{B0}{(4.967,.252)(4.986,.311)(5.155,.323)(5.219,.311)(5.174,.252)(5.024,.215)}
\Bd{B0}{(5.475,.281)(5.55,.314)(5.626,.296)(5.588,.259)}
\Bd{B0}{(4.72,.39)(4.77,.4)(4.83,.39)(4.77,.375)}
\Bd{B0}{(4.49,.39)(4.52,.4)(4.55,.39)(4.52,.378)}
\Rd{white}{(4.715,.044)(4.76,.074)(4.854,.077)(4.854,.044)(4.798,0)(4.76,.003)}
\Rd{white}{(5.13,.012)(5.155,.024)(5.18,.012)(5.155,.002)}
\Rd{white}{(5.235,.012)(5.261,.024)(5.29,.012)(5.261,.002)}
\Rd{white}{(5.49,.014)(5.52,.026)(5.55,.01)(5.52,.002)}
\Rd{white}{(5.715,.008)(5.738,.016)(5.76,.008)(5.738,.001)}
\Rd{white}{(4.44,.008)(4.459,.014)(4.48,.008)(4.459,.002)}
\Rd{white}{(4.59,.01)(4.61,.018)(4.63,.008)(4.61,.002)}
\Rd{R0}{(6.446,.393)(6.566,.459)(6.642,.533)(6.867,.578)(6.98,.593)(7.357,.6)(7.545,.541)(7.77,.4)(7.846,.281)(7.989,.119)(7.94,.074)(7.77,.067)(7.244,.163)(6.905,.237)(6.566,.326)(6.453,.348)}
\Rd{R1}{(6.687,.37)(6.83,.489)(7.093,.548)(7.47,.526)(7.733,.385)(7.827,.252)(7.977,.119)(7.77,.074)(7.244,.178)(6.98,.244)(6.717,.326)}
\Rd{R2}{(7.308,.296)(7.375,.363)(7.507,.356)(7.658,.281)(7.733,.207)(7.79,.141)(7.62,.193)(7.357,.244)}
\Rd{R3}{(7.714,.119)(7.77,.163)(7.902,.156)(7.989,.111)(7.94,.074)(7.808,.067)}
\Rd{R4}{(7.79,.111)(7.865,.141)(7.989,.111)(7.94,.074)(7.846,.074)}
\Rd{R5}{(7.865,.096)(7.914,.111)(7.966,.092)(7.92,.074)}
\Rd{R0}{(6.75,.53)(6.773,.54)(6.8,.53)(6.773,.52)}
\Bd{B4}{(7.733,.02)(7.8,.055)(7.85,.02)(7.83,.003)(7.76,.003)}
\Bd{white}{(6.9,.02)(6.943,.034)(6.985,.02)(6.943,.003)}
\Bd{white}{(7.36,.02)(7.394,.036)(7.43,.02)(7.394,.003)}
\Bd{white}{(7.07,.012)(7.09,.022)(7.11,.012)(7.09,.002)}
\Tri{8}
\addplot[black!65,line width=1.5pt,forget plot] coordinates {(4,0)(4,1)};
\end{axis}
%---------- colour bars
\begin{axis}[scale only axis,anchor=south west,at={(844pt,-549.3pt)},width=14.5pt,height=234.6pt,
  xmin=0,xmax=1,ymin=0,ymax=.0467,xtick=\empty,ytick={0,.01,.02,.03,.04},scaled y ticks=false,
  yticklabels={0,0.01,0.02,0.03,0.04},yticklabel pos=right,tick align=inside,major tick length=3pt,
  axis line style={color=axc,line width=.8pt},tick style={color=axc,line width=.8pt},
  tick label style={font=\tfont,color=black!80,scale=1.125},
  label style={font=\tfont,color=black!80,scale=1.6},
  view={0}{90},colormap name=parula,point meta min=0,point meta max=.0467,
  ylabel={$\sqrt{\overline{v}^2+\overline{w}^2}/U_b$},
  ylabel style={at={(axis description cs:4.05,.5)},anchor=center,rotate=0}]
\addplot3[surf,shader=interp,mesh/cols=2,point meta=y,forget plot] coordinates {
(0,0,0)(1,0,0)(0,.0023,0)(1,.0023,0)(0,.0047,0)(1,.0047,0)(0,.007,0)(1,.007,0)(0,.0093,0)(1,.0093,0)
(0,.0117,0)(1,.0117,0)(0,.014,0)(1,.014,0)(0,.0163,0)(1,.0163,0)(0,.0187,0)(1,.0187,0)(0,.021,0)(1,.021,0)
(0,.0234,0)(1,.0234,0)(0,.0257,0)(1,.0257,0)(0,.028,0)(1,.028,0)(0,.0304,0)(1,.0304,0)(0,.0327,0)(1,.0327,0)
(0,.035,0)(1,.035,0)(0,.0374,0)(1,.0374,0)(0,.0397,0)(1,.0397,0)(0,.042,0)(1,.042,0)(0,.0444,0)(1,.0444,0)(0,.0467,0)(1,.0467,0)};
\end{axis}
\begin{axis}[scale only axis,anchor=south west,at={(845.3pt,-1141pt)},width=14.5pt,height=236pt,
  xmin=0,xmax=1,ymin=-1,ymax=1,xtick=\empty,ytick={-1,-.5,0,.5,1},
  yticklabels={-1,-0.5,0,0.5,1},yticklabel pos=right,tick align=inside,major tick length=3pt,
  axis line style={color=axc,line width=.8pt},tick style={color=axc,line width=.8pt},
  tick label style={font=\tfont,color=black!80,scale=1.125},
  label style={font=\tfont,color=black!80,scale=1.25},
  view={0}{90},colormap name=bwr,point meta min=-1,point meta max=1,
  ylabel={$\overline{\Lambda}_{ci}\delta/U_b$},
  ylabel style={at={(axis description cs:3.85,.5)},anchor=center,rotate=0}]
\addplot3[surf,shader=interp,mesh/cols=2,point meta=y,forget plot] coordinates {
(0,-1,0)(1,-1,0)(0,-.9,0)(1,-.9,0)(0,-.8,0)(1,-.8,0)(0,-.7,0)(1,-.7,0)(0,-.6,0)(1,-.6,0)(0,-.5,0)(1,-.5,0)
(0,-.4,0)(1,-.4,0)(0,-.3,0)(1,-.3,0)(0,-.2,0)(1,-.2,0)(0,-.1,0)(1,-.1,0)(0,0,0)(1,0,0)(0,.1,0)(1,.1,0)
(0,.2,0)(1,.2,0)(0,.3,0)(1,.3,0)(0,.4,0)(1,.4,0)(0,.5,0)(1,.5,0)(0,.6,0)(1,.6,0)(0,.7,0)(1,.7,0)
(0,.8,0)(1,.8,0)(0,.9,0)(1,.9,0)(0,1,0)(1,1,0)};
\end{axis}
%---------- panel letters
\foreach \t/\x/\y in {a/20/-18,b/214/-18,c/500/-18,d/20/-315,e/20/-610,f/212/-610,g/500/-610,h/20/-896}
  \node[font=\fontsize{20.74}{21}\selectfont\itshape,color=black!90] at (\x,\y) {(\t)};
\end{tikzpicture}
\end{document}
